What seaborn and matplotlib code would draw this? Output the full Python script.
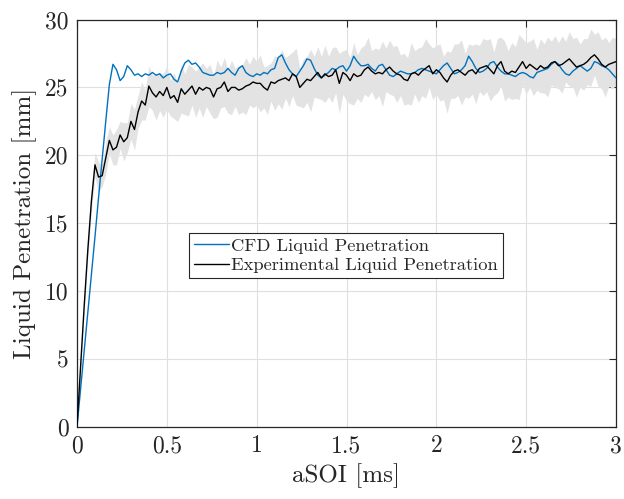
import numpy as np
import pandas as pd
import matplotlib
matplotlib.use("Agg")
import matplotlib.pyplot as plt
from matplotlib.ticker import FuncFormatter
import seaborn as sns

# ---------------- data ----------------
t_step = 0.02
time_ms = np.round(np.arange(0, 151) * t_step, 2)

cfd_pen = [
    0, 2.8, 5.6, 8.4, 11.2, 14.0, 16.9, 19.7, 22.5, 25.2,
    26.7, 26.3, 25.5, 25.8, 26.6, 26.3, 25.9, 26.0, 25.8, 26.0,
    25.9, 26.1, 25.9, 26.0, 25.7, 25.9, 26.0, 25.6, 25.4, 26.2,
    26.8, 27.0, 26.7, 26.8, 26.5, 26.1, 26.0, 25.9, 25.9, 26.1,
    26.0, 26.1, 26.4, 26.1, 25.9, 26.4, 26.6, 26.1, 25.9, 25.8,
    26.0, 25.9, 26.1, 26.0, 26.3, 26.4, 27.2, 27.4, 26.8, 26.3,
    26.0, 25.8, 26.2, 26.6, 27.1, 27.0, 26.4, 25.9, 25.7, 25.9,
    26.1, 26.4, 26.3, 26.5, 26.6, 26.2, 26.6, 27.3, 26.9, 26.6,
    26.6, 26.7, 26.4, 26.2, 26.6, 26.7, 26.3, 25.9, 25.8, 26.0,
    26.2, 26.1, 26.0, 26.0, 26.1, 26.3, 26.4, 26.3, 26.2, 26.1,
    26.0, 26.3, 26.6, 26.8, 26.4, 26.0, 26.1, 26.3, 26.6, 27.3,
    26.9, 26.4, 26.1, 26.2, 26.4, 26.8, 26.9, 26.5, 26.2, 26.0,
    26.0, 25.9, 25.8, 26.0, 26.1, 26.0, 25.8, 25.7, 26.1, 26.2,
    26.3, 26.4, 26.7, 26.9, 26.7, 26.3, 26.0, 25.9, 26.2, 26.4,
    26.6, 26.4, 26.2, 26.4, 26.9, 26.8, 26.6, 26.5, 26.3, 26.0,
    25.7,
]

exp_pen = [
    0, 4.5, 8.9, 13.0, 16.6, 19.3, 18.4, 18.5, 19.8, 21.1,
    20.4, 20.6, 21.5, 21.0, 21.3, 22.5, 21.9, 23.2, 24.0, 23.7,
    25.1, 24.6, 24.3, 24.7, 24.4, 25.0, 24.2, 24.4, 23.9, 24.9,
    24.5, 24.8, 25.1, 24.5, 25.0, 24.8, 25.0, 24.9, 24.3, 24.9,
    25.0, 25.4, 24.7, 25.0, 25.0, 24.8, 24.9, 25.1, 25.2, 25.4,
    25.3, 25.3, 25.0, 24.8, 25.4, 25.3, 25.5, 25.6, 25.7, 25.5,
    26.0, 25.8, 25.0, 25.3, 25.6, 25.5, 25.8, 26.1, 25.7, 26.0,
    25.8, 25.9, 26.3, 25.3, 26.1, 25.9, 25.5, 26.0, 25.8, 25.9,
    26.3, 26.5, 26.2, 26.0, 26.1, 26.0, 26.3, 26.5, 26.2, 26.0,
    25.9, 25.6, 25.5, 26.0, 26.1, 25.9, 26.2, 26.4, 26.6, 26.0,
    26.3, 26.1, 25.7, 25.4, 25.9, 26.2, 26.3, 26.1, 25.9, 26.2,
    26.3, 26.0, 26.4, 26.5, 26.6, 26.3, 26.0, 26.6, 26.9, 26.2,
    26.0, 26.2, 26.1, 26.5, 26.9, 26.4, 26.7, 26.5, 26.3, 26.6,
    26.4, 26.5, 26.8, 26.9, 26.6, 26.7, 26.9, 27.1, 26.8, 26.5,
    26.6, 26.7, 26.9, 27.2, 27.4, 27.1, 26.7, 26.5, 26.7, 26.8,
    26.9,
]

exp_std = [
    0.0, 0.3, 0.5, 0.6, 0.8, 0.9,
    1.1, 0.8, 1.2, 1.0, 1.1, 1.3, 1.0, 1.4, 1.1, 1.3, 1.5, 1.2, 1.4, 1.1, 1.5, 1.3, 1.7, 1.4, 1.6,
    1.6, 1.3, 1.7, 1.4, 1.8, 1.5, 1.9, 1.4, 1.7, 1.5, 2.0, 1.4, 1.8, 1.6, 2.1, 1.5, 1.8, 1.6, 2.0, 1.4, 1.8, 1.7, 2.1, 1.5, 1.9,
    1.6, 2.1, 1.5, 1.8, 1.4, 2.0, 1.7, 2.2, 1.5, 1.9, 1.6, 2.1, 1.4, 1.8, 1.7, 2.3, 1.5, 1.9, 1.6, 2.1, 1.5, 2.0, 1.7, 2.2, 1.6,
    1.9, 1.7, 2.3, 1.6, 2.0, 1.8, 2.2, 1.5, 1.9, 1.7, 2.4, 1.6, 2.0, 1.8, 2.1, 1.5, 1.9, 1.7, 2.3, 1.6, 2.0, 1.8, 2.2, 1.6, 1.9,
    1.8, 2.1, 1.6, 2.3, 1.7, 2.0, 1.9, 2.4, 1.6, 2.0, 1.8, 2.2, 1.7, 2.1, 1.9, 2.3, 1.6, 2.0, 1.8, 2.2, 1.7, 2.1, 1.9, 2.4, 1.7,
    1.9, 1.7, 2.1, 1.5, 2.0, 1.8, 2.2, 1.6, 1.9, 1.7, 2.1, 1.5, 2.0, 1.8, 2.2, 1.6, 1.9, 1.7, 2.1, 1.5, 2.0, 1.8, 2.2, 1.6, 1.9, 1.7,
]

x_ticks = [0, 0.5, 1, 1.5, 2, 2.5, 3]
y_ticks = [0, 5, 10, 15, 20, 25, 30]
x_label = "aSOI [ms]"
y_label = "Liquid Penetration [mm]"
cfd_name = "CFD Liquid Penetration"
exp_name = "Experimental Liquid Penetration"

# ---------------- style ----------------
sns.set_style("white")
plt.rcParams["font.family"] = ["cmr10", "DejaVu Serif"]
plt.rcParams["mathtext.fontset"] = "cm"
plt.rcParams["axes.formatter.use_mathtext"] = True

axis_col = "#262626"
blue = "#0072BD"

df = pd.DataFrame({"t": time_ms, "cfd": cfd_pen, "exp": exp_pen, "std": exp_std})

fig = plt.figure(figsize=(6.24, 4.99), dpi=100)
ax = fig.add_axes([77 / 624, 1 - 427 / 499, (616 - 77) / 624, (427 - 19.5) / 499])

ax.fill_between(df["t"], df["exp"] - df["std"], df["exp"] + df["std"],
                color="#E3E3E3", linewidth=0, zorder=1)
sns.lineplot(data=df, x="t", y="cfd", ax=ax, color=blue, linewidth=1.0,
             label=cfd_name, errorbar=None, zorder=3)
sns.lineplot(data=df, x="t", y="exp", ax=ax, color="black", linewidth=1.0,
             label=exp_name, errorbar=None, zorder=4)

ax.set_xlim(0, 3)
ax.set_ylim(0, 30)
ax.set_xticks(x_ticks)
ax.set_yticks(y_ticks)
ax.xaxis.set_major_formatter(FuncFormatter(lambda v, p: f"{v:g}"))
ax.yaxis.set_major_formatter(FuncFormatter(lambda v, p: f"{v:g}"))
ax.grid(True, color="#DFDFDF", linewidth=0.8, zorder=0)
ax.set_axisbelow(True)

for s in ax.spines.values():
    s.set_visible(True)
    s.set_color(axis_col)
    s.set_linewidth(0.9)
ax.tick_params(axis="both", direction="in", length=5, width=0.8, color=axis_col,
               labelsize=17, labelcolor=axis_col, top=True, right=True, pad=6)

ax.set_xlabel(x_label, fontsize=18, color=axis_col, labelpad=4)
ax.set_ylabel(y_label, fontsize=18, color=axis_col, labelpad=6)

leg = ax.legend(loc="upper left", bbox_to_anchor=(189 / 624, 1 - 233 / 499),
                bbox_transform=fig.transFigure, fontsize=13.3, frameon=True,
                fancybox=False, framealpha=1, edgecolor=axis_col,
                handlelength=1.9, handletextpad=0.15, labelspacing=0.2,
                borderpad=0.25, borderaxespad=0)
leg.get_frame().set_linewidth(0.8)

fig.savefig("out.png", dpi=100)
